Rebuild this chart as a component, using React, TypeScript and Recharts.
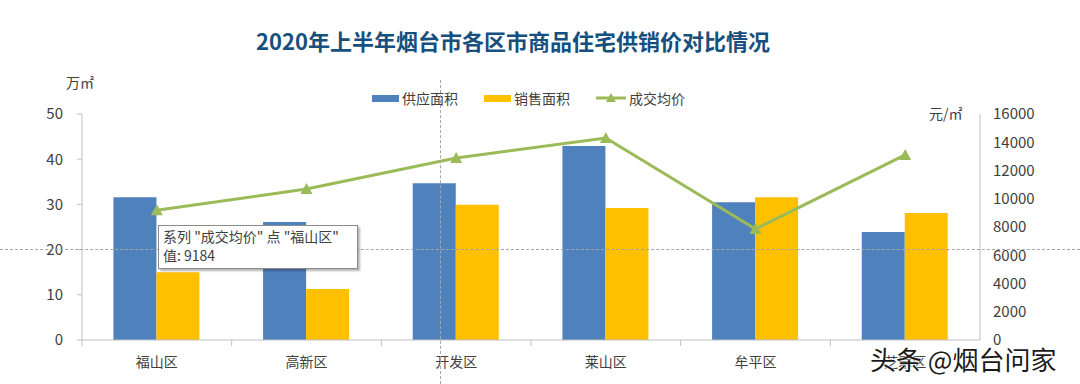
import { ComposedChart, Bar, Line, XAxis, YAxis } from "recharts"

const FONT = '"Noto Sans CJK SC", "Noto Sans", sans-serif'

const categories = ["福山区", "高新区", "开发区", "莱山区", "牟平区", "芝罘区"]
const supplyArea = [31.6, 26.1, 34.7, 42.9, 30.5, 23.9]
const salesArea = [15.0, 11.3, 29.9, 29.2, 31.6, 28.1]
const avgPrice = [9184, 10690, 12885, 14300, 7860, 13100]

const areaTicks = [0, 10, 20, 30, 40, 50]
const priceTicks = [0, 2000, 4000, 6000, 8000, 10000, 12000, 14000, 16000]

const data = categories.map((name, i) => ({
  name,
  supply: supplyArea[i],
  sales: salesArea[i],
  price: avgPrice[i],
}))

const BLUE = "#4F81BD"
const YELLOW = "#FFC000"
const GREEN = "#9BBB59"
const TEXT = "#404040"
const AXIS = "#BFBFBF"
const BAND = (980 - 82) / categories.length

function CategoryTick(props: any) {
  const { x, y, payload } = props
  return (
    <g>
      <line x1={x - BAND / 2} x2={x - BAND / 2} y1={y} y2={y + 6} stroke={AXIS} />
      <text x={x} y={y + 27} textAnchor="middle" fill={TEXT} fontSize={14} fontFamily={FONT}>
        {payload.value}
      </text>
    </g>
  )
}

function TriangleDot(props: any) {
  const { cx, cy } = props
  if (cx == null || cy == null) return null
  return <path d={`M${cx},${cy - 6} L${cx + 6},${cy + 5} L${cx - 6},${cy + 5} Z`} fill={GREEN} />
}

function LegendItem({ color, label, line }: { color: string; label: string; line?: boolean }) {
  return (
    <div style={{ display: "flex", alignItems: "center", marginRight: 26 }}>
      {line ? (
        <svg width={30} height={12} style={{ marginRight: 3 }}>
          <line x1={0} x2={30} y1={6} y2={6} stroke={color} strokeWidth={3} />
          <path d="M15,1 L20,10 L10,10 Z" fill={color} />
        </svg>
      ) : (
        <div style={{ width: 27, height: 7, background: color, marginRight: 3 }} />
      )}
      <span style={{ fontSize: 14, color: TEXT }}>{label}</span>
    </div>
  )
}

export default function App() {
  return (
    <div
      style={{
        position: "fixed",
        left: 0,
        top: 0,
        width: 1080,
        height: 384,
        background: "#fff",
        overflow: "hidden",
        fontFamily: FONT,
      }}
    >
      <div
        style={{
          position: "absolute",
          left: 0,
          width: 1026,
          top: 24,
          textAlign: "center",
          fontSize: 22,
          fontWeight: 700,
          color: "#174F7E",
        }}
      >
        2020年上半年烟台市各区市商品住宅供销价对比情况
      </div>

      <div style={{ position: "absolute", left: 372, top: 88, display: "flex" }}>
        <LegendItem color={BLUE} label="供应面积" />
        <LegendItem color={YELLOW} label="销售面积" />
        <LegendItem color={GREEN} label="成交均价" line />
      </div>

      <div style={{ position: "absolute", left: 66, top: 72, fontSize: 14, color: TEXT }}>万㎡</div>
      <div style={{ position: "absolute", left: 929, top: 103, fontSize: 14, color: TEXT }}>元/㎡</div>

      <div style={{ position: "absolute", left: 0, top: 0 }}>
        <ComposedChart
          width={1080}
          height={384}
          data={data}
          margin={{ top: 114, right: 0, bottom: 14, left: 0 }}
          barCategoryGap="21%"
          barGap={0}
        >
          <XAxis
            dataKey="name"
            height={30}
            interval={0}
            tickSize={0}
            tickMargin={0}
            axisLine={{ stroke: AXIS }}
            tick={<CategoryTick />}
          />
          <YAxis
            yAxisId="area"
            width={82}
            domain={[0, 50]}
            ticks={areaTicks}
            axisLine={{ stroke: AXIS }}
            tickLine={{ stroke: AXIS }}
            tickSize={5}
            tickMargin={14}
            tick={{ fill: TEXT, fontSize: 15, fontFamily: FONT }}
          />
          <YAxis
            yAxisId="price"
            orientation="right"
            width={100}
            domain={[0, 16000]}
            ticks={priceTicks}
            axisLine={{ stroke: AXIS }}
            tickLine={false}
            tickSize={0}
            tickMargin={13}
            tick={{ fill: TEXT, fontSize: 15, fontFamily: FONT }}
          />
          <Bar yAxisId="area" dataKey="supply" fill={BLUE} isAnimationActive={false} />
          <Bar yAxisId="area" dataKey="sales" fill={YELLOW} isAnimationActive={false} />
          <Line
            yAxisId="price"
            dataKey="price"
            stroke={GREEN}
            strokeWidth={3}
            dot={<TriangleDot />}
            activeDot={false}
            isAnimationActive={false}
          />
        </ComposedChart>
      </div>

      {/* crosshair from the screenshot */}
      <div style={{ position: "absolute", left: 0, width: 1080, top: 249, borderTop: "1px dashed #A6A6A6" }} />
      <div style={{ position: "absolute", left: 440, top: 80, height: 304, borderLeft: "1px dashed #A6A6A6" }} />

      {/* hover tooltip */}
      <div
        style={{
          position: "absolute",
          left: 158,
          top: 225,
          width: 190,
          height: 40,
          padding: "1px 4px",
          background: "#fff",
          border: "1px solid #8C8C8C",
          boxShadow: "2px 2px 2px rgba(0,0,0,0.3)",
          fontSize: 14,
          lineHeight: "19px",
          color: TEXT,
        }}
      >
        <div>系列 "成交均价" 点 "福山区"</div>
        <div>值: 9184</div>
      </div>

      <div
        style={{
          position: "absolute",
          left: 870,
          top: 340,
          fontSize: 26,
          lineHeight: "38px",
          color: "#1A1A1A",
          textShadow: "0 0 2px #fff, 0 0 2px #fff",
        }}
      >
        头条 @烟台问家
      </div>
    </div>
  )
}
